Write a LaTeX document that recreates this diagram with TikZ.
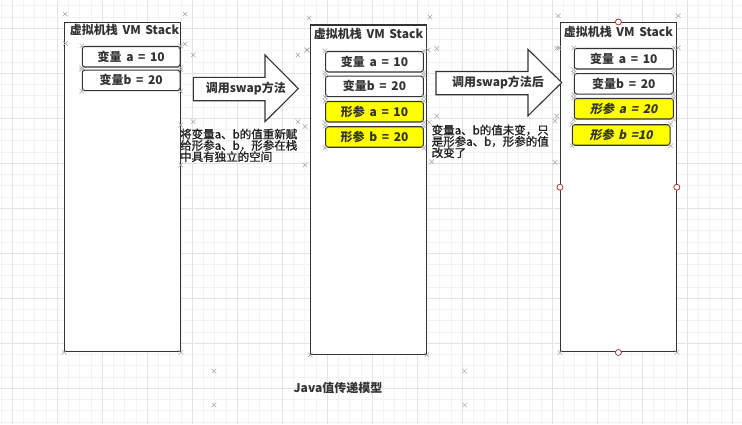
\documentclass[tikz,border=0pt]{standalone}
\usepackage{fontspec}
\setmainfont{Noto Sans CJK SC}[WordSpace=1.7]
\newfontfamily\slantcjk{Noto Sans CJK SC}[FakeSlant=0.2, WordSpace=1.7]
\newfontfamily\desccjk{Noto Sans CJK SC}[FakeBold=1.2]
\usetikzlibrary{calc}
\definecolor{ink}{HTML}{333333}
\definecolor{desctext}{HTML}{222222}
\definecolor{gridminor}{HTML}{F3F3F3}
\definecolor{gridmajor}{HTML}{E3E3E3}
\definecolor{hl}{HTML}{FFFF00}
\definecolor{anchorred}{HTML}{A83C3C}
\definecolor{crossgray}{HTML}{A8A8A8}
\tikzset{
  xm/.pic={\draw[crossgray, line width=0.5pt] (-2.3,-2.3) -- (2.3,2.3) (-2.3,2.3) -- (2.3,-2.3);}
}
\begin{document}
\begin{tikzpicture}[x=1pt,y=-1pt,
  stackbox/.style={draw=ink, line width=1.3pt, fill=white, inner sep=0pt,
    minimum width=115.6pt, minimum height=329.2pt},
  cell/.style={draw=ink, line width=1.1pt, rounded corners=2.5pt, fill=white,
    inner sep=0pt, minimum width=97.7pt, minimum height=20.5pt,
    font=\fontsize{12}{12}\selectfont\bfseries, text=ink},
  param/.style={cell, fill=hl},
  slanted/.style={font={\slantcjk\fontsize{12}{12}\selectfont\bfseries}},
  titletext/.style={font=\fontsize{12}{12}\selectfont\bfseries, text=ink, inner sep=0pt},
  arrowtext/.style={font=\fontsize{12}{12}\selectfont\bfseries, text=ink, inner sep=0pt},
  desc/.style={font={\desccjk\fontsize{11.5}{11.3}\selectfont}, text=desctext, inner sep=0pt, align=left, anchor=north west},
  blockarrow/.style={draw=ink, line width=1.1pt, fill=white, line join=miter},
  anchorpt/.style={circle, draw=anchorred, fill=white, line width=0.8pt, minimum size=6pt, inner sep=0pt},
  caption/.style={font=\fontsize{12}{12}\selectfont\bfseries, text=ink, inner sep=0pt}
]
\useasboundingbox (0,0) rectangle (742,424);
\fill[white] (0,0) rectangle (742,424);
% grid
\foreach \k in {-1,...,65} {
  \draw[gridminor, line width=0.8pt] ({12.3+11.25*\k},0) -- ({12.3+11.25*\k},424);
}
\foreach \k in {-3,...,35} {
  \draw[gridminor, line width=0.8pt] (0,{28.3+11.25*\k}) -- (742,{28.3+11.25*\k});
}
\foreach \k in {0,...,16} {
  \draw[gridmajor, line width=0.9pt] ({12.3+45*\k},0) -- ({12.3+45*\k},424);
}
\foreach \k in {-1,...,8} {
  \draw[gridmajor, line width=0.9pt] (0,{28.3+45*\k}) -- (742,{28.3+45*\k});
}

% stacks
\node[stackbox] (s1) at (122.5,187.1) {};
\node[stackbox] (s2) at (368.5,189.6) {};
\node[stackbox] (s3) at (618.4,187.2) {};

\node[titletext] (t1) at (124.5,30) {虚拟机栈 VM Stack};
\node[titletext] (t2) at (368.5,34.3) {虚拟机栈 VM Stack};
\node[titletext] (t3) at (618.4,31.7) {虚拟机栈 VM Stack};

% cells stack 1
\node[cell] (a1) at (131.2,56.7) {变量 a = 10};
\node[cell] (b1) at (131.2,80.3) {变量b = 20};
% cells stack 2
\node[cell] (a2) at (374.5,61.7) {变量 a = 10};
\node[cell] (b2) at (374.5,86.3) {变量b = 20};
\node[param] (pa2) at (374.5,111.7) {形参 a = 10};
\node[param] (pb2) at (374.5,137) {形参 b = 20};
% cells stack 3
\node[cell, minimum width=99pt] (a3) at (623.8,58.7) {变量 a = 10};
\node[cell, minimum width=99pt] (b3) at (623.8,83.8) {变量b = 20};
\node[param, slanted, minimum width=99pt] (pa3) at (623.8,108.7) {形参 a = 20};
\node[param, slanted] (pb3) at (621.2,135) {形参 b =10};

% block arrows
\draw[blockarrow] (193.3,77.3) -- (265,77.3) -- (265,55) -- (298.3,88.6) -- (265,121.7) -- (265,100.7) -- (193.3,100.7) -- cycle;
\node[arrowtext] (l1) at (245.8,89) {调用swap方法};
\draw[blockarrow] (436,71.5) -- (528,71.5) -- (528,49.3) -- (561.7,82.6) -- (528,115.8) -- (528,94.7) -- (436,94.7) -- cycle;
\node[arrowtext] (l2) at (498,82.7) {调用swap方法后};

% descriptions
\node[desc] (d1) at (180,128.5) {将变量a、b的值重新赋\\给形参a、b，形参在栈\\中具有独立的空间};
\node[desc] (d2) at (431.5,124.5) {变量a、b的值未变，只\\是形参a、b，形参的值\\改变了};

% caption
\node[caption] (cap) at (338,388) {Java值传递模型};

% selection anchors on stack 3
\node[anchorpt] (c1) at (s3.north) {};
\node[anchorpt] (c2) at (s3.south) {};
\node[anchorpt] (c3) at (s3.west) {};
\node[anchorpt] (c4) at (s3.east) {};

% corner marks
\foreach \p in {(65,14),(185,14),(65.5,43.5),(185,44),
  (309,18),(430,17),(307.3,50),(428.3,50),
  (558.3,15.7),(678.3,15.7),(559,48),(678.3,47.7),
  (193.3,55),(298,55),(193.3,121.7),(298,121.7),(306.7,50),
  (436.7,48.5),(556.7,48.3),(436.7,116),(556.7,116),
  (180.7,125),(305,126.5),(180.7,165),(305,165),
  (429.3,122.3),(555,121),(431.7,161.7),(555,162.3),
  (214,371),(214,405),(464.6,371),(464.6,405)}
  \pic at \p {xm};
\foreach \n in {s1,s2,s3} {
  \pic at (\n.south west) {xm};
  \pic at (\n.south east) {xm};
}
\foreach \n in {a1,b1,a2,b2,pa2,pb2,a3,b3,pa3,pb3} {
  \pic at (\n.north west) {xm};
  \pic at (\n.north east) {xm};
  \pic at (\n.south west) {xm};
  \pic at (\n.south east) {xm};
}
\end{tikzpicture}
\end{document}
